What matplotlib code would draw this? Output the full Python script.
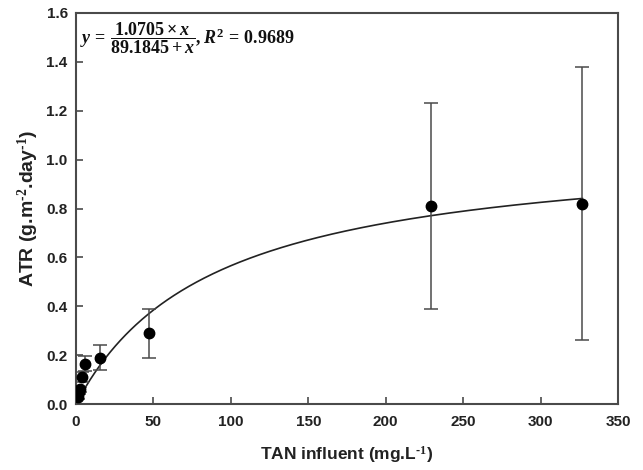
import numpy as np
import matplotlib
matplotlib.use("Agg")
import matplotlib.pyplot as plt

# Data
tan = [1.0, 1.8, 2.6, 3.9, 5.6, 15.5, 47.0, 229.0, 327.0]
atr = [0.03, 0.05, 0.06, 0.11, 0.165, 0.19, 0.29, 0.81, 0.82]
err = [0.01, 0.01, 0.01, 0.02, 0.03, 0.05, 0.10, 0.42, 0.56]
vmax = 1.0705
km = 89.1845
r2 = 0.9689
xticks = [0, 50, 100, 150, 200, 250, 300, 350]
yticks = [0.0, 0.2, 0.4, 0.6, 0.8, 1.0, 1.2, 1.4, 1.6]

plt.rcParams['font.family'] = ['Liberation Sans', 'DejaVu Sans']
plt.rcParams['mathtext.fontset'] = 'custom'
plt.rcParams['mathtext.rm'] = 'Liberation Serif:bold'
plt.rcParams['mathtext.it'] = 'Liberation Serif:italic:bold'
plt.rcParams['mathtext.bf'] = 'Liberation Serif:bold'
plt.rcParams['mathtext.sf'] = 'Liberation Sans:bold'

fig = plt.figure(figsize=(6.43, 4.70), dpi=100)
ax = fig.add_axes([76/643, 1 - 404/470, (618-76)/643, (404-13)/470])

frame_col = '#4a4a4a'
xs = np.linspace(min(tan), max(tan), 400)
ax.plot(xs, vmax * xs / (km + xs), color='#222222', lw=1.2, zorder=2)
ax.errorbar(tan, atr, yerr=err, fmt='o', color='black', ms=7.5,
            ecolor='#4a4a4a', elinewidth=1.1, capsize=5, capthick=1.1, zorder=3)

ax.set_xlim(0, 350)
ax.set_ylim(0, 1.6)
ax.set_xticks(xticks)
ax.set_xticklabels([str(t) for t in xticks])
ax.set_yticks(yticks)
ax.set_yticklabels([f"{t:.1f}" for t in yticks])
for s in ax.spines.values():
    s.set_color(frame_col)
    s.set_linewidth(1.5)
ax.tick_params(direction='in', length=5, width=1.2, color=frame_col,
               labelsize=11, top=False, right=False)
ax.tick_params(axis='x', pad=8)
ax.tick_params(axis='y', pad=6)
for lab in ax.get_xticklabels() + ax.get_yticklabels():
    lab.set_fontweight('bold')
    lab.set_color('#222222')

ax.set_xlabel('TAN influent (mg.L$^{\\mathsf{\u2010}1}$)', fontsize=12.5,
              fontweight='bold', color='#222222', labelpad=11)
ax.set_ylabel('ATR (g.m$^{\\mathsf{\u2010}2}$.day$^{\\mathsf{\u2010}1}$)', fontsize=14,
              fontweight='bold', color='#222222', labelpad=4)

eq = (r'$y\,=\,\dfrac{%.4f\times x}{%.4f+x}, R^{2}\,=\,%.4f$' % (vmax, km, r2))
ax.text(0.008, 0.935, eq, transform=ax.transAxes, fontsize=13,
        ha='left', va='center', color='#111111')

fig.savefig('out.png', dpi=100)
